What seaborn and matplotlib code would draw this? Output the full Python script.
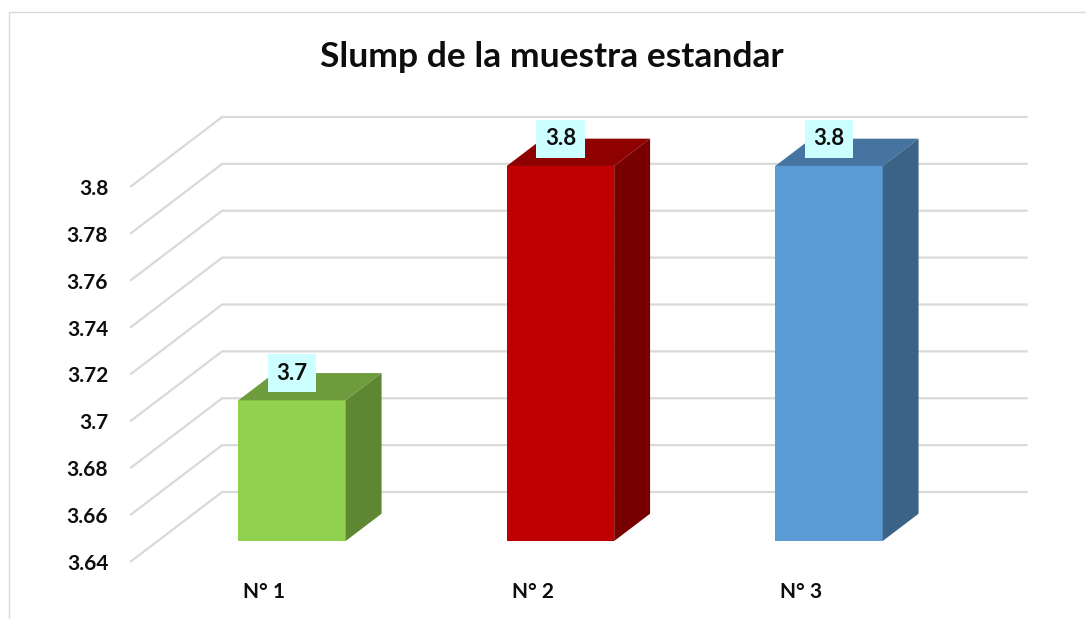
import matplotlib.pyplot as plt
import numpy as np
import pandas as pd
import seaborn as sns
from matplotlib.patches import Polygon, Rectangle

# data
categories = ["N° 1", "N° 2", "N° 3"]
slump = [3.7, 3.8, 3.8]
y_ticks = [3.64, 3.66, 3.68, 3.70, 3.72, 3.74, 3.76, 3.78, 3.80]
title = "Slump de la muestra estandar"

# colours of the three bar faces
front_colors = ["#92D050", "#C00000", "#5B9BD5"]
top_colors = ["#6F9C3D", "#8F0000", "#4574A0"]
side_colors = ["#5E8733", "#780000", "#3B6386"]
grid_color = "#D9D9D9"
text_color = "#0D0D0D"

# fake 3D: depth vector of the floor in data units, bars sit in a slice of it
DX, DY = 0.3426, 0.02986
BAR_D0, BAR_D1 = 0.30, 0.69
Y_BASE = 3.64


def proj(x, y, d):
    """Oblique projection relative to the bars' front plane."""
    return x + (d - BAR_D0) * DX, y + (d - BAR_D0) * DY


sns.set_style("white")
plt.rcParams["font.family"] = ["Lato", "DejaVu Sans"]

W, H = 1086, 619
fig = plt.figure(figsize=(W / 100, H / 100), dpi=100)
base_px = 541
ax = fig.add_axes([0, (H - base_px) / H, 1, base_px / H])

df = pd.DataFrame({"muestra": categories, "slump": slump})
sns.barplot(data=df, x="muestra", y="slump", hue="muestra", palette=front_colors,
            saturation=1, width=0.4, linewidth=0, legend=False, ax=ax, zorder=3)

ax.set_xlim(-292 / 268.5, (W - 292) / 268.5)
ax.set_ylim(Y_BASE, Y_BASE + base_px / 2344)
ax.set_axis_off()

# walls: back gridlines plus the diagonals down the left side wall
x_left, x_right = -0.5, len(categories) - 0.5
for v in y_ticks:
    x0, y0 = proj(x_left, v, 0)
    x1, y1 = proj(x_left, v, 1)
    x2, _ = proj(x_right, v, 1)
    ax.plot([x0, x1, x2], [y0, y1, y1], color=grid_color, lw=1.6,
            zorder=1, clip_on=False, solid_capstyle="butt")
    ax.annotate(f"{round(v, 2):g}", (x0, y0), xytext=(-22, -2),
                textcoords="offset pixels", ha="right", va="center",
                fontsize=15, fontweight="bold", color=text_color,
                annotation_clip=False)

# top and side faces of each bar, taken from the patches seaborn drew
bars = sorted(ax.patches, key=lambda p: p.get_x())
depth = BAR_D1 - BAR_D0
for i, p in enumerate(bars):
    xl = p.get_x()
    xr = xl + p.get_width()
    v = p.get_height()
    ddx, ddy = depth * DX, depth * DY
    top = Polygon([(xl, v), (xr, v), (xr + ddx, v + ddy), (xl + ddx, v + ddy)],
                  closed=True, facecolor=top_colors[i], edgecolor="none", zorder=3)
    side = Polygon([(xr, Y_BASE), (xr + ddx, Y_BASE + ddy), (xr + ddx, v + ddy), (xr, v)],
                   closed=True, facecolor=side_colors[i], edgecolor="none", zorder=3)
    ax.add_patch(top)
    ax.add_patch(side)

    # value label sitting on the top face
    cx = xl + p.get_width() / 2
    ax.text(cx, v + ddy, f"{v:.1f}", ha="center", va="center",
            fontsize=16, fontweight="bold", color=text_color, zorder=5,
            bbox=dict(boxstyle="square,pad=0.38", facecolor="#CCFFFF", edgecolor="none"))

# category labels along the front edge of the floor
for i, name in enumerate(categories):
    fx, fy = proj(i, Y_BASE, 0)
    ax.annotate(name, (fx, fy), xytext=(0, -30), textcoords="offset pixels",
                ha="center", va="center", fontsize=15, fontweight="bold",
                color=text_color, annotation_clip=False)

fig.text(552 / W, 1 - 57 / H, title, ha="center", va="center",
         fontsize=25.5, fontweight="bold", color=text_color)

# chart area border
fig.add_artist(Rectangle((9 / W, -0.05), 1.1, (H - 12) / H + 0.05,
                         transform=fig.transFigure, fill=False,
                         edgecolor=grid_color, lw=1))

fig.savefig("out.png", dpi=100)
